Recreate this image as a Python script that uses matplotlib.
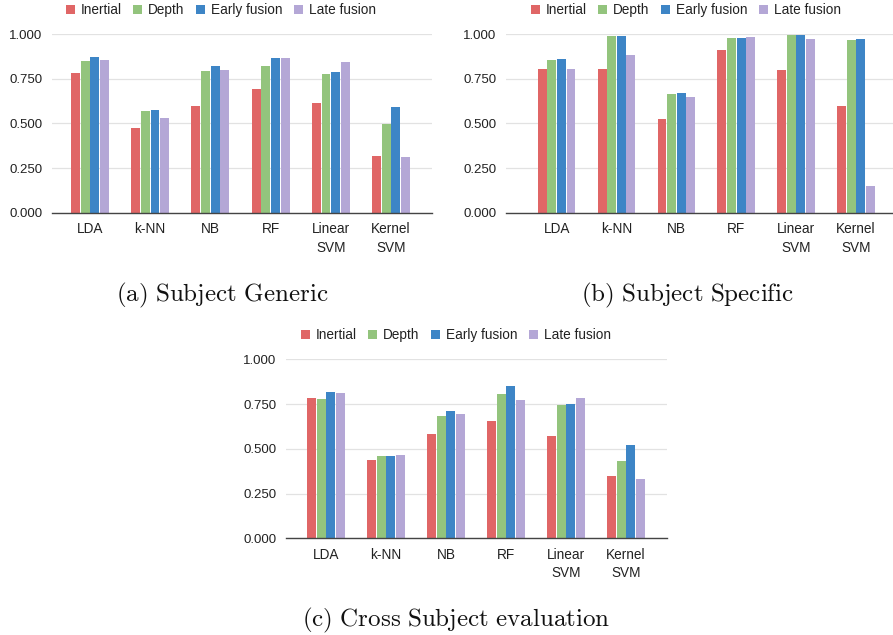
import matplotlib
matplotlib.use("Agg")
import matplotlib.pyplot as plt
from matplotlib.patches import Patch
import numpy as np

categories = ["LDA", "k-NN", "NB", "RF", "Linear\nSVM", "Kernel\nSVM"]
series = ["Inertial", "Depth", "Early fusion", "Late fusion"]
colors = ["#e06666", "#93c47d", "#3d85c6", "#b4a7d6"]
yticks = [0.0, 0.25, 0.5, 0.75, 1.0]

# (a) Subject Generic
a_inertial = [0.785, 0.475, 0.596, 0.692, 0.617, 0.316]
a_depth    = [0.852, 0.572, 0.794, 0.822, 0.778, 0.499]
a_early    = [0.871, 0.576, 0.821, 0.869, 0.791, 0.591]
a_late     = [0.856, 0.529, 0.802, 0.865, 0.845, 0.310]

# (b) Subject Specific
b_inertial = [0.806, 0.806, 0.525, 0.912, 0.802, 0.600]
b_depth    = [0.856, 0.991, 0.667, 0.981, 0.996, 0.966]
b_early    = [0.860, 0.991, 0.671, 0.981, 0.996, 0.974]
b_late     = [0.806, 0.882, 0.647, 0.985, 0.974, 0.151]

# (c) Cross Subject evaluation
c_inertial = [0.786, 0.438, 0.585, 0.657, 0.572, 0.346]
c_depth    = [0.780, 0.460, 0.682, 0.806, 0.743, 0.434]
c_early    = [0.816, 0.460, 0.711, 0.853, 0.749, 0.521]
c_late     = [0.810, 0.467, 0.696, 0.773, 0.786, 0.333]

plt.rcParams['font.family'] = ['Liberation Sans', 'DejaVu Sans']
plt.rcParams['mathtext.fontset'] = 'cm'

W, H = 893, 635
fig = plt.figure(figsize=(W / 100, H / 100), dpi=100)

panels = [
    dict(data=[a_inertial, a_depth, a_early, a_late],
         rect=[52, 34.3, 432, 212.7], xlim=(-0.631, 5.681),
         legend_x=221, legend_y=10,
         caption=r"$\mathrm{(a)\ Subject\ Generic}$", cap_x=222, cap_y=295),
    dict(data=[b_inertial, b_depth, b_early, b_late],
         rect=[506, 34.3, 893, 212.7], xlim=(-0.846, 5.618),
         legend_x=686, legend_y=10,
         caption=r"$\mathrm{(b)\ Subject\ Specific}$", cap_x=687, cap_y=295),
    dict(data=[c_inertial, c_depth, c_early, c_late],
         rect=[286, 359.3, 667, 538.3], xlim=(-0.667, 5.683),
         legend_x=456, legend_y=335,
         caption=r"$\mathrm{(c)\ Cross\ Subject\ evaluation}$", cap_x=456, cap_y=620),
]

x = np.arange(len(categories))
step = 0.16
offsets = [-1.5 * step, -0.5 * step, 0.5 * step, 1.5 * step]

for p in panels:
    l, t, r, b = p["rect"]
    ax = fig.add_axes([l / W, 1 - b / H, (r - l) / W, (b - t) / H])
    for vals, off, col in zip(p["data"], offsets, colors):
        ax.bar(x + off, vals, width=step * 0.93, color=col, zorder=3)
    ax.set_xlim(*p["xlim"])
    ax.set_ylim(0, 1.0)
    ax.set_yticks(yticks)
    ax.set_yticklabels([f"{v:.3f}" for v in yticks])
    ax.set_xticks(x)
    ax.set_xticklabels(categories, linespacing=1.4)
    ax.tick_params(axis='both', length=0, labelsize=9.8, colors='#222222')
    ax.tick_params(axis='y', pad=7, labelsize=9.5)
    ax.tick_params(axis='x', pad=7)
    ax.grid(axis='y', color='#e2e2e2', linewidth=0.9, zorder=0)
    ax.set_axisbelow(True)
    for s in ['top', 'right', 'left']:
        ax.spines[s].set_visible(False)
    ax.spines['bottom'].set_color('#444444')
    ax.spines['bottom'].set_linewidth(1.0)
    ax.spines['bottom'].set_zorder(4)
    ax.set_facecolor('white')
    ax.patch.set_alpha(0)

    handles = [Patch(facecolor=c, edgecolor='none') for c in colors]
    fig.legend(handles, series, loc='center',
               bbox_to_anchor=(p["legend_x"] / W, 1 - p["legend_y"] / H),
               ncol=4, frameon=False, fontsize=9.8,
               handlelength=0.65, handleheight=0.65, handletextpad=0.45,
               columnspacing=0.85, borderpad=0, labelcolor='#222222')

    fig.text(p["cap_x"] / W, 1 - p["cap_y"] / H, p["caption"],
             ha='center', va='center', fontsize=18, color='#111111')

fig.savefig("out.png", dpi=100, facecolor='white')
